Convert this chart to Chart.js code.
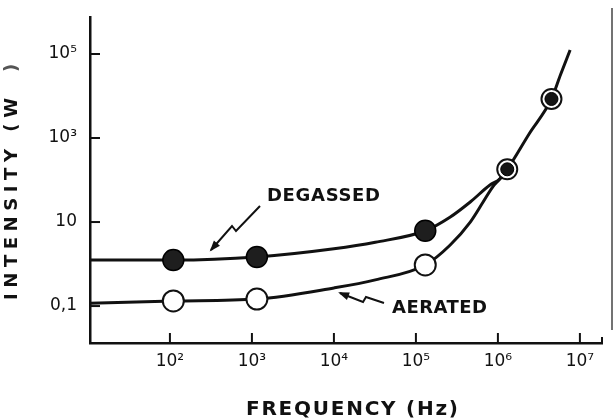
<!DOCTYPE html>
<html>
<head>
<meta charset="utf-8">
<script src="https://cdn.jsdelivr.net/npm/chart.js@4.4.0/dist/chart.umd.min.js"></script>
<style>
  html, body { margin: 0; padding: 0; background: #fff; }
  #wrap { width: 616px; height: 419px; }
</style>
</head>
<body>
<div id="wrap"><canvas id="grafico"></canvas></div>
<script>
// tick values and labels
const xTicks = [1e2, 1e3, 1e4, 1e5, 1e6, 1e7];
const xTickLabels = ['10²', '10³', '10⁴', '10⁵', '10⁶', '10⁷'];
const yTicks = [0.1, 10, 1e3, 1e5];
const yTickLabels = ['0,1', '10', '10³', '10⁵'];

// measured points (Hz, intensity)
const degassedFreq = [110, 1150, 1.3e5];
const degassedIntensity = [1.24, 1.47, 6.2];
const aeratedFreq = [110, 1150, 1.3e5];
const aeratedIntensity = [0.132, 0.147, 0.95];
const bothFreq = [1.3e6, 4.5e6];
const bothIntensity = [180, 8500];

// drawn curves
const degassedCurveFreq = [10.5, 110, 1150, 1e4, 3.2e4, 1.3e5, 2.6e5, 4.6e5, 8e5, 1.05e6, 1.3e6, 2.4e6, 4.5e6, 5.8e6, 7.6e6];
const degassedCurveIntensity = [1.24, 1.24, 1.47, 2.3, 3.3, 6.2, 13, 30, 76, 105, 180, 1250, 8500, 3.2e4, 1.25e5];
const aeratedCurveFreq = [10.5, 110, 1150, 1e4, 3.2e4, 1.3e5, 2.6e5, 4.6e5, 6.6e5, 8.7e5, 1.05e6, 1.3e6];
const aeratedCurveIntensity = [0.117, 0.132, 0.147, 0.27, 0.42, 0.95, 2.8, 10, 30, 70, 105, 180];

const xTitle = 'FREQUENCY (Hz)';
const yTitle = 'INTENSITY (W';
const yTitleEnd = ')';
const labelDegassed = 'DEGASSED';
const labelAerated = 'AERATED';

const toPts = (xs, ys) => xs.map((x, i) => ({ x: x, y: ys[i] }));

// draws text with letter spacing so it spans a given width
function textoAncho(ctx, txt, x, y, ancho) {
    ctx.letterSpacing = '0px';
    const w = ctx.measureText(txt).width;
    const sp = txt.length > 1 ? (ancho - w) / (txt.length - 1) : 0;
    ctx.letterSpacing = sp + 'px';
    ctx.fillText(txt, x, y);
    ctx.letterSpacing = '0px';
}

function flecha(ctx, pts) {
    ctx.beginPath();
    ctx.moveTo(pts[0][0], pts[0][1]);
    for (let i = 1; i < pts.length; i++) ctx.lineTo(pts[i][0], pts[i][1]);
    ctx.stroke();
    const a = pts[pts.length - 2], b = pts[pts.length - 1];
    const ang = Math.atan2(b[1] - a[1], b[0] - a[0]);
    const L = 9, W = 4;
    ctx.beginPath();
    ctx.moveTo(b[0] + Math.cos(ang) * 2, b[1] + Math.sin(ang) * 2);
    ctx.lineTo(b[0] - Math.cos(ang) * L + Math.sin(ang) * W, b[1] - Math.sin(ang) * L - Math.cos(ang) * W);
    ctx.lineTo(b[0] - Math.cos(ang) * L - Math.sin(ang) * W, b[1] - Math.sin(ang) * L + Math.cos(ang) * W);
    ctx.closePath();
    ctx.fill();
}

const decoracion = {
    id: 'decoracion',
    afterDraw(chart) {
        const ctx = chart.ctx;
        const xs = chart.scales.x, ys = chart.scales.y;
        const area = chart.chartArea;
        ctx.save();
        ctx.strokeStyle = '#111';
        ctx.fillStyle = '#111';
        ctx.lineWidth = 2;
        // inner tick marks
        yTicks.forEach(v => {
            const py = ys.getPixelForValue(v);
            ctx.beginPath(); ctx.moveTo(area.left, py); ctx.lineTo(area.left + 10, py); ctx.stroke();
        });
        xTicks.forEach(v => {
            const px = xs.getPixelForValue(v);
            ctx.beginPath(); ctx.moveTo(px, area.bottom); ctx.lineTo(px, area.bottom - 10); ctx.stroke();
        });
        // small upturn at the end of the x axis
        ctx.beginPath(); ctx.moveTo(area.right, area.bottom + 1); ctx.lineTo(area.right, area.bottom - 6); ctx.stroke();
        // page edge of the scan
        ctx.strokeStyle = '#444';
        ctx.lineWidth = 1.5;
        ctx.beginPath(); ctx.moveTo(612, 8); ctx.lineTo(612, 330); ctx.stroke();

        // axis titles
        ctx.strokeStyle = '#111';
        ctx.textBaseline = 'middle';
        ctx.textAlign = 'left';
        ctx.font = 'bold 20px "DejaVu Sans"';
        textoAncho(ctx, xTitle, 246, 410, 212);

        ctx.save();
        ctx.translate(12, 300);
        ctx.rotate(-Math.PI / 2);
        ctx.font = 'bold 18px "DejaVu Sans"';
        textoAncho(ctx, yTitle, 0, 0, 202);
        ctx.fillStyle = '#555';
        ctx.fillText(yTitleEnd, 228, 0);
        ctx.restore();

        // curve labels
        ctx.font = 'bold 18px "DejaVu Sans"';
        textoAncho(ctx, labelDegassed, 267, 196, 113);
        textoAncho(ctx, labelAerated, 392, 308, 95);

        ctx.lineWidth = 2;
        flecha(ctx, [[260, 206], [236, 231], [232, 226], [211, 250]]);
        flecha(ctx, [[384, 303], [366, 297], [363, 302], [340, 293]]);
        ctx.restore();
    }
};

const puntoBase = { showLine: false, pointStyle: 'circle' };

new Chart(document.getElementById('grafico'), {
    type: 'scatter',
    data: {
        datasets: [
            {
                ...puntoBase, label: 'both inner', data: toPts(bothFreq, bothIntensity), order: 0,
                pointRadius: 6.5, pointBackgroundColor: '#151515', pointBorderColor: '#000', pointBorderWidth: 1
            },
            {
                ...puntoBase, label: 'both ring', data: toPts(bothFreq, bothIntensity), order: 1,
                pointRadius: 10, pointBackgroundColor: '#fff', pointBorderColor: '#111', pointBorderWidth: 2
            },
            {
                ...puntoBase, label: 'Degassed', data: toPts(degassedFreq, degassedIntensity), order: 2,
                pointRadius: 10.5, pointBackgroundColor: '#1e1e1e', pointBorderColor: '#000', pointBorderWidth: 1.5
            },
            {
                ...puntoBase, label: 'Aerated', data: toPts(aeratedFreq, aeratedIntensity), order: 2,
                pointRadius: 10.5, pointBackgroundColor: '#fff', pointBorderColor: '#111', pointBorderWidth: 2
            },
            {
                label: 'Degassed curve', data: toPts(degassedCurveFreq, degassedCurveIntensity), order: 5,
                showLine: true, pointRadius: 0, borderColor: '#111', borderWidth: 3,
                cubicInterpolationMode: 'monotone'
            },
            {
                label: 'Aerated curve', data: toPts(aeratedCurveFreq, aeratedCurveIntensity), order: 5,
                showLine: true, pointRadius: 0, borderColor: '#111', borderWidth: 3,
                cubicInterpolationMode: 'monotone'
            }
        ]
    },
    options: {
        responsive: true,
        maintainAspectRatio: false,
        animation: false,
        layout: { padding: { top: 17, right: 14, left: 0, bottom: 0 } },
        plugins: { legend: { display: false }, tooltip: { enabled: false } },
        scales: {
            x: {
                type: 'logarithmic',
                min: 10.6, max: 1.86e7,
                afterBuildTicks: (s) => { s.ticks = xTicks.map(v => ({ value: v })); },
                afterFit: (s) => { s.height = 76; s.paddingLeft = 0; s.paddingRight = 0; },
                grid: { display: false, drawTicks: false },
                border: { display: true, color: '#111', width: 2.5 },
                ticks: {
                    color: '#111', padding: 8, maxRotation: 0, autoSkip: false,
                    font: { family: 'DejaVu Sans', size: 17 },
                    callback: (v) => xTickLabels[xTicks.indexOf(v)] ?? ''
                }
            },
            y: {
                type: 'logarithmic',
                min: 0.0132, max: 7.6e5,
                afterBuildTicks: (s) => { s.ticks = yTicks.map(v => ({ value: v })); },
                afterFit: (s) => { s.width = 90; s.paddingTop = 0; s.paddingBottom = 0; },
                grid: { display: false, drawTicks: false },
                border: { display: true, color: '#111', width: 2.5 },
                ticks: {
                    color: '#111', padding: 13, autoSkip: false,
                    font: { family: 'DejaVu Sans', size: 17 },
                    callback: (v) => yTickLabels[yTicks.indexOf(v)] ?? ''
                }
            }
        }
    },
    plugins: [decoracion]
});
</script>
</body>
</html>
